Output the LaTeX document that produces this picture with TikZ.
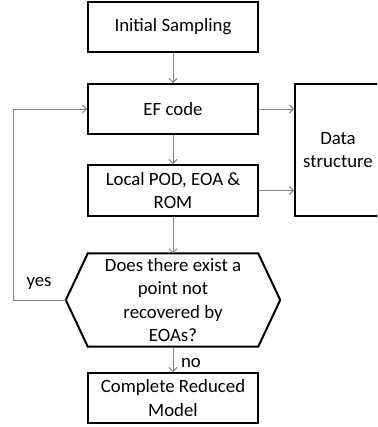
\documentclass[tikz,border=0pt]{standalone}
\usepackage{fontspec}
\setmainfont{Carlito}
\usetikzlibrary{positioning,calc,arrows.meta}

\begin{document}
\begin{tikzpicture}[x=1pt,y=-1pt,
    font=\fontsize{18.8}{23.5}\selectfont,
    box/.style={draw=black, line width=2pt, minimum width=170pt,
      minimum height=50pt, align=center, inner sep=2pt},
    flow/.style={draw=gray, line width=0.9pt,
      -{Straight Barb[length=4pt,width=8pt]}}]
  \clip (0,0) rectangle (377,427);

  % Main column
  \node[box] (init) at (173,27) {Initial Sampling};
  \node[box] (ef) at (173,109) {EF code};
  \node[box, minimum height=51pt] (local) at (173,190.5) {Local POD, EOA \&\\ROM};
  \node[box] (done) at (173,398) {Complete Reduced\\Model};

  % Data structure (runs off the right edge)
  \node[box, minimum width=86pt, minimum height=132pt] (data) at (338,150) {Data\\structure};

  % Decision hexagon
  \node[minimum width=170pt, minimum height=93pt, inner sep=0pt, align=center]
    (query) at (173,300) {Does there exist a\\point not\\recovered by\\EOAs?};
  \coordinate (qleft) at ($(query.west)+(-22,0)$);
  \coordinate (qright) at ($(query.east)+(22,0)$);
  \draw[line width=2pt, line join=miter] (query.north west) -- (query.north east)
    -- (qright) -- (query.south east) -- (query.south west) -- (qleft) -- cycle;

  % Arrows
  \draw[flow] (init) -- (ef);
  \draw[flow] (ef) -- (local);
  \draw[flow] (local) -- (query);
  \draw[flow] (query) -- (done);
  \draw[flow] (ef.east) -- (ef.east -| data.west);
  \draw[flow] (local.east) -- (local.east -| data.west);

  % Loop back
  \coordinate (loop) at (13,300);
  \draw[flow] (qleft) -- (loop) |- (ef.west);

  % Labels
  \node (yes) at (39,283) {yes};
  \node (no) at (191,363) {no};
\end{tikzpicture}
\end{document}
